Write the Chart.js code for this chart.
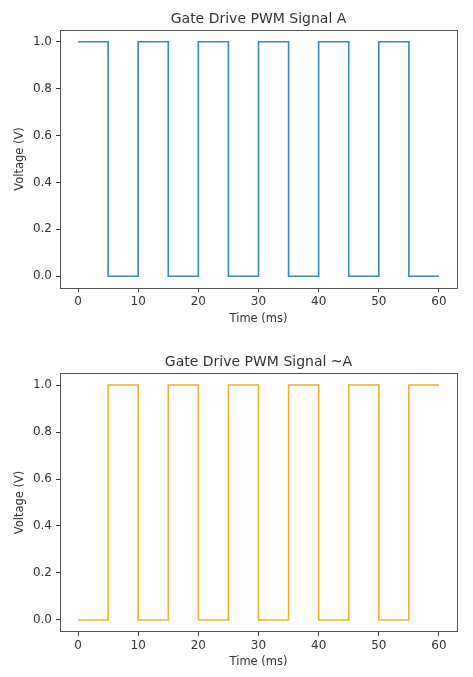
<!DOCTYPE html>
<html>
<head>
<meta charset="utf-8">
<script src="https://cdn.jsdelivr.net/npm/chart.js@4"></script>
<style>
  body { margin: 0; background: #fff; }
  canvas { display: block; }
</style>
</head>
<body>
<canvas id="pwmA" width="473" height="338"></canvas>
<canvas id="pwmNotA" width="473" height="339"></canvas>
<script>
// switching instants (ms) and the level held from each one until the next
const timeMs = [0, 5, 10, 15, 20, 25, 30, 35, 40, 45, 50, 55, 60];
const signalA = [1, 0, 1, 0, 1, 0, 1, 0, 1, 0, 1, 0, 0];
const signalNotA = [0, 1, 0, 1, 0, 1, 0, 1, 0, 1, 0, 1, 1];

const xTicks = [0, 10, 20, 30, 40, 50, 60];
const yTicks = [0, 0.2, 0.4, 0.6, 0.8, 1.0];

const FONT = "'DejaVu Sans', sans-serif";
const INK = '#333';

// box around the plotting area, like matplotlib spines
const frame = {
  id: 'frame',
  afterDraw(chart) {
    const a = chart.chartArea;
    const ctx = chart.ctx;
    ctx.save();
    ctx.strokeStyle = '#555';
    ctx.lineWidth = 1;
    ctx.strokeRect(Math.round(a.left) + 0.5, Math.round(a.top) + 0.5,
      Math.round(a.right - a.left), Math.round(a.bottom - a.top));
    ctx.restore();
  }
};

function makeChart(id, title, values, color, L) {
  const pts = timeMs.map((t, i) => ({ x: t, y: values[i] }));
  return new Chart(document.getElementById(id), {
    type: 'line',
    data: {
      datasets: [{
        data: pts,
        stepped: true,
        borderColor: color,
        borderWidth: 1.6,
        pointRadius: 0,
        fill: false
      }]
    },
    options: {
      responsive: false,
      animation: false,
      layout: { padding: { left: 0, right: 16, top: 0, bottom: 0 } },
      plugins: {
        legend: { display: false },
        tooltip: { enabled: false },
        title: {
          display: true,
          fullSize: false,
          text: title,
          color: INK,
          font: { family: FONT, size: 14, weight: 'normal' },
          padding: { top: L.titleTop, bottom: L.titleBottom }
        }
      },
      scales: {
        x: {
          type: 'linear',
          min: -3,
          max: 63,
          afterBuildTicks: s => { s.ticks = xTicks.map(v => ({ value: v })); },
          afterFit: s => { s.height = L.xHeight; },
          grid: { drawOnChartArea: false, tickLength: 4, tickColor: INK },
          border: { display: false },
          ticks: { color: INK, padding: 3, maxRotation: 0, font: { family: FONT, size: 12 } },
          title: {
            display: true, text: 'Time (ms)', color: INK,
            font: { family: FONT, size: 11.5 },
            padding: { top: 0, bottom: L.xTitleBottom }
          }
        },
        y: {
          min: -0.05,
          max: 1.05,
          afterBuildTicks: s => { s.ticks = yTicks.map(v => ({ value: v })); },
          afterFit: s => { s.width = 60; },
          grid: { drawOnChartArea: false, tickLength: 4, tickColor: INK },
          border: { display: false },
          ticks: {
            color: INK, padding: 4, font: { family: FONT, size: 12 },
            callback: v => v.toFixed(1)
          },
          title: {
            display: true, text: 'Voltage (V)', color: INK,
            font: { family: FONT, size: 11.5 },
            padding: { top: 13, bottom: 0 }
          }
        }
      }
    },
    plugins: [frame]
  });
}

makeChart('pwmA', 'Gate Drive PWM Signal A', signalA, '#3a86bf',
  { titleTop: 10.6, titleBottom: 2.6, xHeight: 50, xTitleBottom: 11.8 });
makeChart('pwmNotA', 'Gate Drive PWM Signal ~A', signalNotA, '#f5ad2f',
  { titleTop: 15.6, titleBottom: 2.9, xHeight: 45.3, xTitleBottom: 8.1 });
</script>
</body>
</html>
